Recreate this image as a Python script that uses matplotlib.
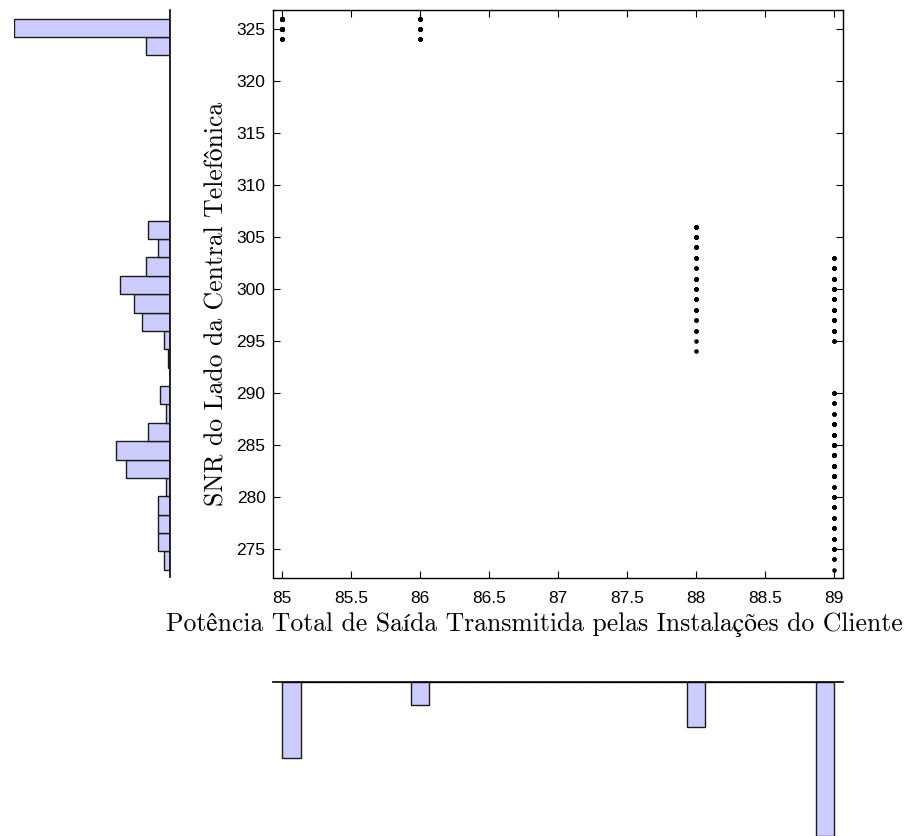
import numpy as np
import matplotlib
matplotlib.use("Agg")
import matplotlib.pyplot as plt

# Readings: transmit power level (x) and SNR at the central office (y),
# with how many times each pair occurs.
snr_85 = [324, 325, 326]
count_85 = [8, 31, 30]

snr_86 = [324, 325, 326]
count_86 = [4, 9, 8]

snr_88 = [294, 295, 296, 297, 298, 299, 300, 301, 302, 303, 304, 305, 306]
count_88 = [1, 1, 2, 2, 3, 3, 3, 4, 2, 3, 6, 5, 6]

snr_89 = [273, 274, 275, 276, 277, 278, 279, 280, 281, 282, 283, 284, 285,
          286, 287, 288, 289, 290,
          295, 296, 297, 298, 299, 300, 301, 302, 303]
count_89 = [1, 2, 3, 3, 3, 3, 3, 3, 2, 11, 11, 13, 14,
            6, 5, 2, 2, 3,
            2, 5, 5, 6, 6, 9, 9, 4, 3]

x_ticks = [85, 85.5, 86, 86.5, 87, 87.5, 88, 88.5, 89]
x_tick_labels = ["85", "85.5", "86", "86.5", "87", "87.5", "88", "88.5", "89"]
y_ticks = [275, 280, 285, 290, 295, 300, 305, 310, 315, 320, 325]

x_label = "Potência Total de Saída Transmitida pelas Instalações do Cliente"
y_label = "SNR do Lado da Central Telefônica"

# expand to raw samples
groups = [(85, snr_85, count_85), (86, snr_86, count_86),
          (88, snr_88, count_88), (89, snr_89, count_89)]
xs, ys = [], []
for px, snr, cnt in groups:
    xs.append(np.full(int(np.sum(cnt)), px, dtype=float))
    ys.append(np.repeat(snr, cnt).astype(float))
x = np.concatenate(xs)
y = np.concatenate(ys)

W, H = 908, 836
fig = plt.figure(figsize=(W / 100, H / 100), dpi=100)


def frac(left, top, right, bottom):
    """Pixel box (from top-left) to figure-fraction rectangle."""
    return [left / W, 1 - bottom / H, (right - left) / W, (bottom - top) / H]


xlim = (84.93, 89.065)
ylim = (272.26, 326.83)

tick_font = dict(family="Liberation Sans", size=12.5)
label_font = dict(family=["cmr10", "STIXGeneral", "DejaVu Serif"], size=18.5)

# main scatter
ax_left, ax_top, ax_right, ax_bottom = 272.5, 10, 843, 577.5
ax_w, ax_h = ax_right - ax_left, ax_bottom - ax_top
ax = fig.add_axes(frac(ax_left, ax_top, ax_right, ax_bottom))
ax.plot(x, y, "o", color="black", ms=3.3, mew=0, linestyle="none")
ax.set_xlim(*xlim)
ax.set_ylim(*ylim)
ax.set_xticks(x_ticks)
ax.set_xticklabels(x_tick_labels, **tick_font)
ax.set_yticks(y_ticks)
ax.set_yticklabels([str(v) for v in y_ticks], **tick_font)
ax.tick_params(direction="in", length=5, width=0.8, top=True, right=True)
ax.tick_params(axis="x", pad=10)
ax.tick_params(axis="y", pad=5)
for s in ax.spines.values():
    s.set_linewidth(1.0)

ax.set_xlabel(x_label, fontdict=label_font)
ax.xaxis.set_label_coords((534 - ax_left) / ax_w,
                          -(637 - ax_bottom) / ax_h,
                          transform=ax.transAxes)
ax.xaxis.label.set_va("bottom")

ax.set_ylabel(y_label, fontdict=label_font)
ax.yaxis.set_label_coords((205 - ax_left) / ax_w,
                          (ax_bottom - 304) / ax_h,
                          transform=ax.transAxes)
ax.yaxis.label.set_va("top")

bar_face = (0.8, 0.8, 1.0)
bar_edge = "#1a1a1a"

# marginal histogram of SNR (left)
axl = fig.add_axes(frac(14, ax_top, 170, ax_bottom))
nl, _, _ = axl.hist(y, bins=30, orientation="horizontal", color=bar_face,
                    edgecolor=bar_edge, linewidth=1.0)
axl.set_ylim(*ylim)
axl.set_xlim(nl.max(), 0)
for side in ("top", "bottom", "left"):
    axl.spines[side].set_visible(False)
axl.spines["right"].set_linewidth(1.2)
axl.set_xticks([])
axl.set_yticks([])
axl.patch.set_alpha(0)

# marginal histogram of power (bottom)
axb = fig.add_axes(frac(ax_left, 681.7, ax_right, 836))
nb, _, _ = axb.hist(x, bins=30, color=bar_face, edgecolor=bar_edge,
                    linewidth=1.0)
axb.set_xlim(*xlim)
axb.set_ylim(nb.max(), 0)
for side in ("bottom", "left", "right"):
    axb.spines[side].set_visible(False)
axb.spines["top"].set_linewidth(1.2)
axb.set_xticks([])
axb.set_yticks([])
axb.patch.set_alpha(0)

fig.savefig("out.png", dpi=100)
